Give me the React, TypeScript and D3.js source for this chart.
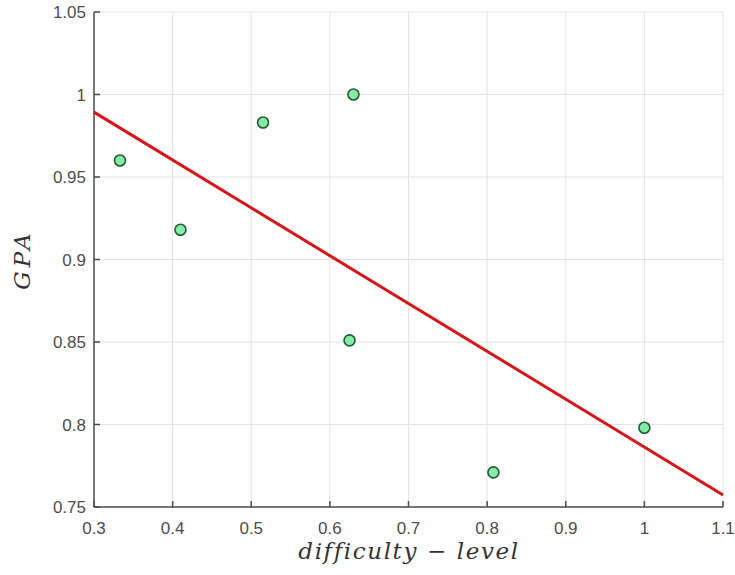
import React from "react";
import * as d3 from "d3";

const difficulty = [0.333, 0.41, 0.515, 0.63, 0.625, 0.808, 1.0];
const gpa = [0.96, 0.918, 0.983, 1.0, 0.851, 0.771, 0.798];
const xTicks = [0.3, 0.4, 0.5, 0.6, 0.7, 0.8, 0.9, 1, 1.1];
const yTicks = [0.75, 0.8, 0.85, 0.9, 0.95, 1, 1.05];

const W = 735, H = 575;
const m = { left: 94, right: 12, top: 12, bottom: 68 };

export default function App() {
  const x = d3.scaleLinear().domain([0.3, 1.1]).range([m.left, W - m.right]);
  const y = d3.scaleLinear().domain([0.75, 1.05]).range([H - m.bottom, m.top]);

  // least squares fit
  const mx = d3.mean(difficulty)!;
  const my = d3.mean(gpa)!;
  const sxy = d3.sum(difficulty, (v, i) => (v - mx) * (gpa[i] - my));
  const sxx = d3.sum(difficulty, v => (v - mx) ** 2);
  const slope = sxy / sxx;
  const fit = (v: number) => my + slope * (v - mx);
  const line = d3.line<number>().x(v => x(v)).y(v => y(fit(v)));

  const tickFont = "'Liberation Sans', Arial, sans-serif";
  const labelFont = "'DejaVu Serif', serif";

  return (
    <svg width={W} height={H} style={{ position: "absolute", left: 0, top: 0, background: "#fff" }}>
      <g stroke="#e3e3e3" strokeWidth={1}>
        {xTicks.slice(1).map(t => (
          <line key={"gx" + t} x1={x(t)} x2={x(t)} y1={y(0.75)} y2={y(1.05)} />
        ))}
        {yTicks.slice(1).map(t => (
          <line key={"gy" + t} x1={x(0.3)} x2={x(1.1)} y1={y(t)} y2={y(t)} />
        ))}
      </g>
      <g stroke="#4a4a4a" strokeWidth={1.5}>
        <line x1={x(0.3)} x2={x(0.3)} y1={y(0.75)} y2={y(1.05)} />
        <line x1={x(0.3)} x2={x(1.1)} y1={y(0.75)} y2={y(0.75)} />
        {xTicks.map(t => (
          <line key={"tx" + t} x1={x(t)} x2={x(t)} y1={y(0.75)} y2={y(0.75) - 6} />
        ))}
        {yTicks.map(t => (
          <line key={"ty" + t} x1={x(0.3)} x2={x(0.3) + 6} y1={y(t)} y2={y(t)} />
        ))}
      </g>
      <g fill="#4d4d4d" fontFamily={tickFont} fontSize={17}>
        {xTicks.map(t => (
          <text key={"lx" + t} x={x(t)} y={y(0.75) + 27} textAnchor="middle">{t}</text>
        ))}
        {yTicks.map(t => (
          <text key={"ly" + t} x={x(0.3) - 8} y={y(t) + 6} textAnchor="end">{t}</text>
        ))}
      </g>
      <path d={line(x.domain())!} fill="none" stroke="#d7161b" strokeWidth={3} />
      <g>
        {difficulty.map((d, i) => (
          <circle key={i} cx={x(d)} cy={y(gpa[i])} r={5.5} fill="#86eba6" stroke="#1f5a32" strokeWidth={1.6} />
        ))}
      </g>
      <text x={409} y={559} textAnchor="middle" fontFamily={labelFont}
        fontStyle="italic" fontSize={23} letterSpacing={1.6} fill="#333"
        style={{ fontVariantLigatures: "none" }}>difficulty − level</text>
      <text transform={`translate(30, ${(m.top + H - m.bottom) / 2}) rotate(-90)`} textAnchor="middle"
        fontFamily={labelFont} fontStyle="italic" fontSize={23} letterSpacing={4} fill="#333">GPA</text>
    </svg>
  );
}
